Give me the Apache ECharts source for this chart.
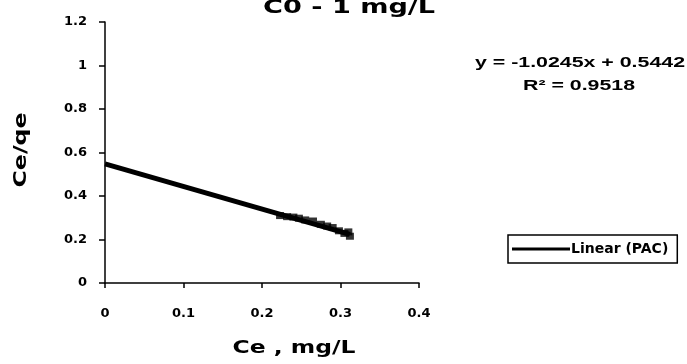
<!DOCTYPE html>
<html><head><meta charset="utf-8">
<script src="https://cdn.jsdelivr.net/npm/echarts@6/dist/echarts.min.js"></script>
<style>html,body{margin:0;padding:0;background:#fff}#c{width:687px;height:364px}</style>
</head><body><div id="c"></div>
<script>
const titleText = 'C0 - 1 mg/L';
const xAxisName = 'Ce , mg/L';
const yAxisName = 'Ce/qe';
const xTicks = [0, 0.1, 0.2, 0.3, 0.4];
const yTicks = [0, 0.2, 0.4, 0.6, 0.8, 1, 1.2];
const pacX = [0.223, 0.232, 0.24, 0.247, 0.255, 0.265, 0.275, 0.283, 0.29, 0.298, 0.305, 0.31, 0.312];
const pacY = [0.31, 0.305, 0.303, 0.298, 0.29, 0.285, 0.27, 0.262, 0.255, 0.24, 0.228, 0.235, 0.215];
const trendX = [0, 0.312];
const trendY = [0.548, 0.224];
const eqText = 'y = -1.0245x + 0.5442';
const r2Text = 'R² = 0.9518';
const legendName = 'Linear (PAC)';

const dv = '"DejaVu Sans", sans-serif';
const lib = '"Liberation Sans", Arial, sans-serif';
const ctx = document.createElement('canvas').getContext('2d');
function stretched(text, cx, cy, size, family, targetW, rotation) {
  const font = 'bold ' + size + 'px ' + family;
  ctx.font = font;
  const w = ctx.measureText(text).width;
  return {type: 'text', x: cx, y: cy, rotation: rotation || 0, scaleX: targetW / w, scaleY: 1,
    style: {text: text, font: font, fill: '#000', textAlign: 'center', textVerticalAlign: 'middle'}};
}

const chart = echarts.init(document.getElementById('c'));
chart.setOption({
  animation: false,
  backgroundColor: '#fff',
  grid: {left: 105, right: 268, top: 22, bottom: 81},
  legend: {
    data: [{name: legendName, icon: 'rect'}],
    left: 508, top: 235, padding: [7, 9, 7, 4],
    borderColor: '#000', borderWidth: 1.5, itemWidth: 58, itemHeight: 3, itemGap: 2,
    textStyle: {fontFamily: dv, fontWeight: 'bold', fontSize: 14, color: '#000', padding: [0, 0, 0, -4]}
  },
  xAxis: {type: 'value', min: 0, max: 0.4, interval: 0.1,
    axisLine: {lineStyle: {color: '#000', width: 1.5}},
    axisTick: {show: true, inside: false, length: 5, lineStyle: {color: '#000', width: 1.5}},
    axisLabel: {fontFamily: dv, fontWeight: 'bold', fontSize: 13, color: '#000', margin: 24,
      formatter: v => { const r = Math.round(v*10)/10; return xTicks.includes(r) ? String(r) : ''; }},
    splitLine: {show: false}},
  yAxis: {type: 'value', min: 0, max: 1.2, interval: 0.2,
    axisLine: {show: true, lineStyle: {color: '#000', width: 1.5}},
    axisTick: {show: true, inside: false, length: 6, lineStyle: {color: '#000', width: 1.5}},
    axisLabel: {fontFamily: dv, fontWeight: 'bold', fontSize: 13, color: '#000', margin: 18,
      formatter: v => { const r = Math.round(v*10)/10; return yTicks.includes(r) ? String(r) : ''; }},
    splitLine: {show: false}},
  graphic: [
    stretched(titleText, 349, 8, 20, dv, 172),
    stretched(eqText, 580, 63, 14, lib, 210),
    stretched(r2Text, 579, 86, 14, lib, 112),
    stretched(xAxisName, 294, 348, 18, dv, 123),
    stretched(yAxisName, 21, 150, 18, dv, 75, Math.PI / 2)
  ],
  series: [
    {name: 'PAC', type: 'scatter', data: pacX.map((x, i) => [x, pacY[i]]),
      symbol: 'rect', symbolSize: [8, 7], itemStyle: {color: '#000'}},
    {name: legendName, type: 'line', data: trendX.map((x, i) => [x, trendY[i]]),
      symbol: 'none', lineStyle: {color: '#000', width: 5}, itemStyle: {color: '#000'}}
  ]
});
</script></body></html>
